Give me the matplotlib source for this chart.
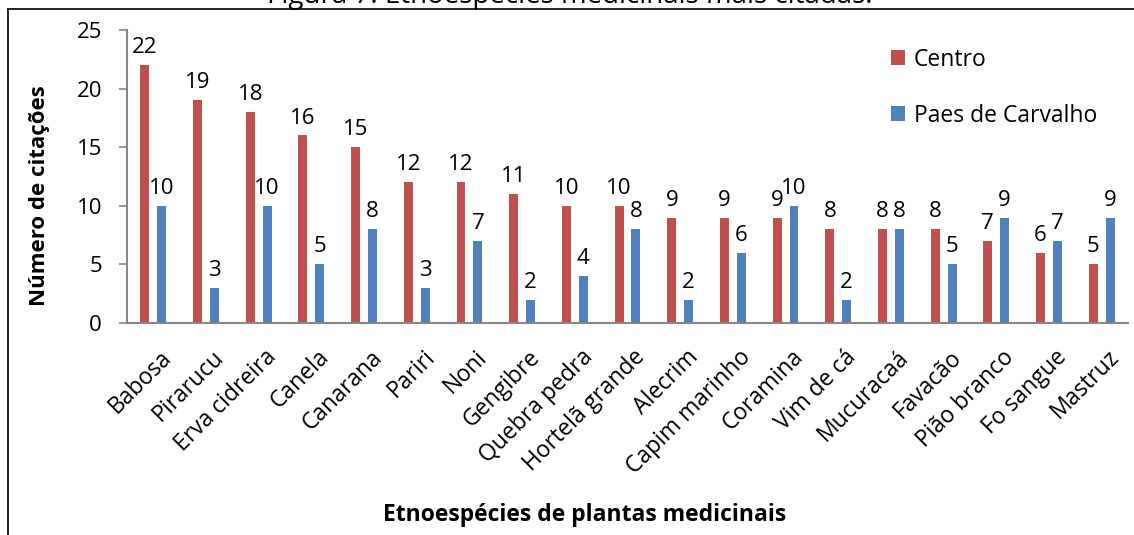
import numpy as np
import matplotlib
matplotlib.use("Agg")
import matplotlib.pyplot as plt
from matplotlib.lines import Line2D
import matplotlib.transforms as mtransforms

plt.rcParams['font.family'] = ['Open Sans', 'DejaVu Sans']

especies = ["Babosa", "Pirarucu", "Erva cidreira", "Canela", "Canarana", "Pariri",
            "Noni", "Gengibre", "Quebra pedra", "Hortelã grande", "Alecrim",
            "Capim marinho", "Coramina", "Vim de cá", "Mucuracaá", "Favacão",
            "Pião branco", "Fo sangue", "Mastruz"]
centro = [22, 19, 18, 16, 15, 12, 12, 11, 10, 10, 9, 9, 9, 8, 8, 8, 7, 6, 5]
paes = [10, 3, 10, 5, 8, 3, 7, 2, 4, 8, 2, 6, 10, 2, 8, 5, 9, 7, 9]

vermelho = "#C0504D"
azul = "#4F81BD"
cinza = "#868686"

fig = plt.figure(figsize=(11.34, 5.35), dpi=100)
ax = fig.add_axes([127/1134, 1-323/535, (1128-127)/1134, (323-30)/535])

x = np.arange(len(especies)) + 0.5
w = 0.17
b1 = ax.bar(x - 0.16, centro, w, color=vermelho, label="Centro")
b2 = ax.bar(x + 0.16, paes, w, color=azul, label="Paes de Carvalho")

for bars in (b1, b2):
    for r in bars:
        ax.annotate(str(int(r.get_height())), (r.get_x() + r.get_width()/2, r.get_height()),
                    xytext=(0, 5), textcoords="offset points", ha="center", va="bottom",
                    fontsize=16)

ax.set_xlim(0, len(especies))
ax.set_ylim(0, 25)
ax.set_yticks([0, 5, 10, 15, 20, 25])
ax.tick_params(axis="y", labelsize=16, color=cinza, length=6, width=1.2, pad=12)
ax.set_xticks(x)
ax.set_xticklabels(especies, rotation=45, ha="right", rotation_mode="anchor", fontsize=16.5)
ax.tick_params(axis="x", length=0, pad=16)
desloc = mtransforms.ScaledTranslation(6/100, 0, fig.dpi_scale_trans)
for t in ax.get_xticklabels():
    t.set_transform(t.get_transform() + desloc)

for s in ["top", "right"]:
    ax.spines[s].set_visible(False)
for s in ["left", "bottom"]:
    ax.spines[s].set_color(cinza)
    ax.spines[s].set_linewidth(1.5)

ax.legend(loc="upper right", bbox_to_anchor=(0.99, 1.01), frameon=False, fontsize=16.5,
          handlelength=0.6, handleheight=0.6, handletextpad=0.4, labelspacing=1.4)

fig.text(40/1134, 1-196/535, "Número de citações", rotation=90, ha="center", va="center",
         fontsize=16, fontweight="bold")
fig.text(585/1134, 1-515/535, "Etnoespécies de plantas medicinais", ha="center", va="center",
         fontsize=16.5, fontweight="bold")
fig.text(570/1134, 1-3/535, "Figura 7: Etnoespécies medicinais mais citadas.", ha="center",
         va="baseline", fontsize=20)

# moldura
fig.add_artist(Line2D([8/1134, 8/1134], [0, 1-9/535], transform=fig.transFigure, color="black", lw=1.2))
fig.add_artist(Line2D([8/1134, 1], [1-9/535, 1-9/535], transform=fig.transFigure, color="black", lw=1.2))

fig.savefig("out.png", dpi=100)
